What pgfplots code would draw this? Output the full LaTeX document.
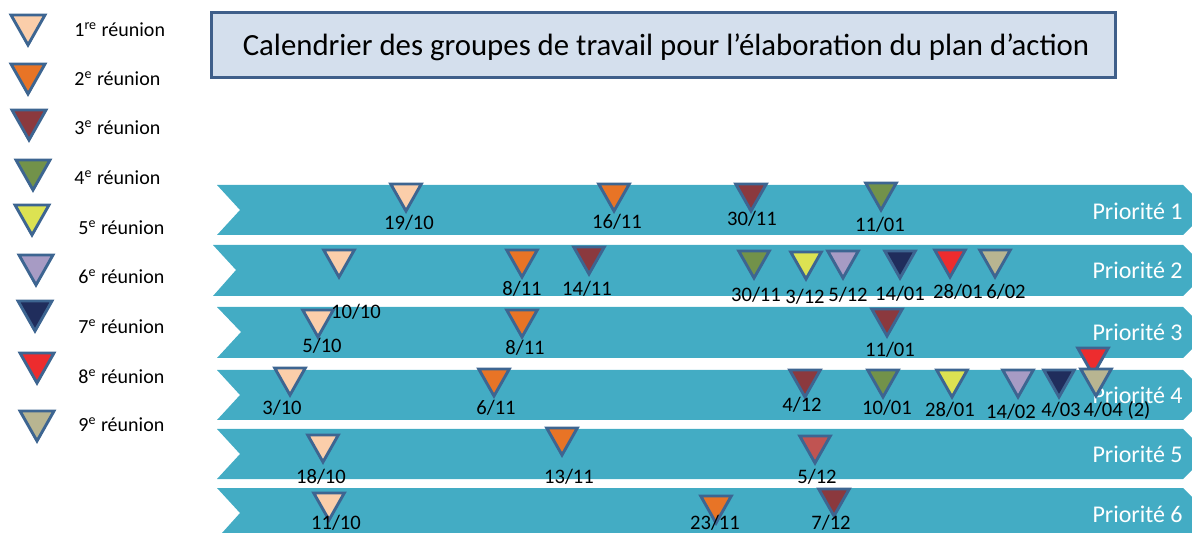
\documentclass[border=0pt]{standalone}
\usepackage{pgfplots}
\pgfplotsset{compat=1.18}
\usepackage{pgfplotstable}
\usepackage{fontspec}
\setmainfont{Carlito}
\definecolor{band}{RGB}{67,172,196}
\definecolor{outl}{RGB}{61,101,145}
\definecolor{c1}{RGB}{251,206,170}
\definecolor{c2}{RGB}{232,116,38}
\definecolor{c3}{RGB}{139,57,62}
\definecolor{c4}{RGB}{114,146,74}
\definecolor{c5}{RGB}{220,226,82}
\definecolor{c6}{RGB}{167,155,196}
\definecolor{c7}{RGB}{32,45,92}
\definecolor{c8}{RGB}{237,44,46}
\definecolor{c9}{RGB}{184,181,145}
\definecolor{c10}{RGB}{192,84,82}
\definecolor{titlefill}{RGB}{212,223,237}
\definecolor{titledraw}{RGB}{63,95,138}
\pgfdeclareplotmark{dtri}{%
  \pgfpathmoveto{\pgfpoint{0pt}{-\pgfplotmarksize}}%
  \pgfpathlineto{\pgfpoint{0.85\pgfplotmarksize}{0.5\pgfplotmarksize}}%
  \pgfpathlineto{\pgfpoint{-0.85\pgfplotmarksize}{0.5\pgfplotmarksize}}%
  \pgfpathclose\pgfusepathqfillstroke}
\newcommand{\tri}[3]{\addplot[only marks, mark=dtri, mark size=#2,
  mark options={fill=#1, draw=outl, line width=1.45pt, miter limit=10}] coordinates {#3};}
\newcommand{\prio}[2]{\node[anchor=east, inner sep=0pt, text=white, font=\fontsize{12}{14}\selectfont] at (axis cs:1183,#1) {Priorité #2};}
\newcommand{\leg}[3]{\node[anchor=west, inner sep=0pt, font=\fontsize{10}{12}\selectfont] at (axis cs:#1,#2) {#3};}
\pgfplotstableread[col sep=comma]{
x,y,t
409,223,19/10
617,222,16/11
752,219,30/11
880,225,11/01
356,312,10/10
522,289,8/11
587,289,14/11
756,295,30/11
805,297,3/12
848,295,5/12
900,294,14/01
958,292,28/01
1006,292,6/02
322,346,5/10
525,348,8/11
890,350,11/01
282,408,3/10
496,408,6/11
802,405,4/12
887,408,10/01
950,410,28/01
1011,412,14/02
1061,410,4/03
1117,410,4/04 (2)
321,477,18/10
569,477,13/11
817,477,5/12
336,523,11/10
715,523,23/11
831,523,7/12
}\datelabels
\begin{document}
\begin{tikzpicture}
\begin{axis}[
  scale only axis, width=596pt, height=266.5pt,
  xmin=0, xmax=1192, ymin=0, ymax=533, y dir=reverse,
  hide axis, clip=false]
\path (axis cs:0,0) rectangle (axis cs:1192,533);
% title box
\addplot[fill=titlefill, draw=titledraw, line width=1.5pt] coordinates {(211,13) (1115,13) (1115,78) (211,78)} -- cycle;
\node[font=\fontsize{15.4}{18}\selectfont] at (axis cs:666,47) {Calendrier des groupes de travail pour l’élaboration du plan d’action};
% bands
\addplot[fill=band, draw=none] coordinates {(217,185) (1183,185) (1192,194) (1192,226) (1183,235) (217,235) (240,210)} -- cycle;
\addplot[fill=band, draw=none] coordinates {(213,245) (1183,245) (1192,254) (1192,287) (1183,296) (213,296) (236,270)} -- cycle;
\addplot[fill=band, draw=none] coordinates {(217,307) (1183,307) (1192,316) (1192,349) (1183,358) (217,358) (241,332)} -- cycle;
\addplot[fill=band, draw=none] coordinates {(217,370) (1183,370) (1192,379) (1192,411) (1183,420) (217,420) (240,395)} -- cycle;
\addplot[fill=band, draw=none] coordinates {(217,429) (1183,429) (1192,438) (1192,470) (1183,479) (217,479) (240,454)} -- cycle;
\addplot[fill=band, draw=none] coordinates {(217,488) (1183,488) (1192,497) (1192,533) (222,533) (240,513)} -- cycle;
% priority labels
\prio{211}{1}
\prio{270}{2}
\prio{332}{3}
\prio{395}{4}
\prio{454}{5}
\prio{514}{6}
% legend labels
\leg{74}{30}{1\textsuperscript{re} réunion}
\leg{74}{79}{2\textsuperscript{e} réunion}
\leg{74}{128}{3\textsuperscript{e} réunion}
\leg{74}{178}{4\textsuperscript{e} réunion}
\leg{78}{228}{5\textsuperscript{e} réunion}
\leg{78}{277}{6\textsuperscript{e} réunion}
\leg{78}{327}{7\textsuperscript{e} réunion}
\leg{78}{377}{8\textsuperscript{e} réunion}
\leg{78}{425}{9\textsuperscript{e} réunion}
% legend triangles
\tri{c1}{10pt}{(28,25)}
\tri{c2}{10pt}{(28,74)}
\tri{c3}{10pt}{(29,120)}
\tri{c4}{10pt}{(33,170)}
\tri{c5}{10pt}{(32,215)}
\tri{c6}{10pt}{(36,265)}
\tri{c7}{10pt}{(35,311)}
\tri{c8}{10pt}{(37,363)}
\tri{c9}{10pt}{(37,421)}
% meeting triangles
\tri{c1}{9pt}{(406,193) (339,259) (318,319) (290,377) (323,444) (329,502)}
\tri{c2}{9pt}{(614,193) (522,259) (522,319) (494,378) (562,437) (716,505)}
\tri{c3}{9pt}{(751,193) (589,256) (887,318) (805,379) (834,498)}
\tri{c10}{9pt}{(815,445)}
\tri{c4}{9pt}{(881,192) (754,260) (883,379)}
\tri{c5}{9pt}{(806,261) (952,379)}
\tri{c6}{9pt}{(843,260) (1018,379)}
\tri{c7}{9pt}{(900,260) (1059,379)}
\tri{c8}{9pt}{(950,259) (1093,357)}
\tri{c9}{9pt}{(995,259) (1096,378)}
% date labels
\addplot[draw=none, mark=none, nodes near coords, point meta=explicit symbolic,
  nodes near coords style={anchor=center, inner sep=0pt, text=black, font=\fontsize{10.3}{12}\selectfont}]
  table[x=x, y=y, meta=t] {\datelabels};
\end{axis}
\end{tikzpicture}
\end{document}
